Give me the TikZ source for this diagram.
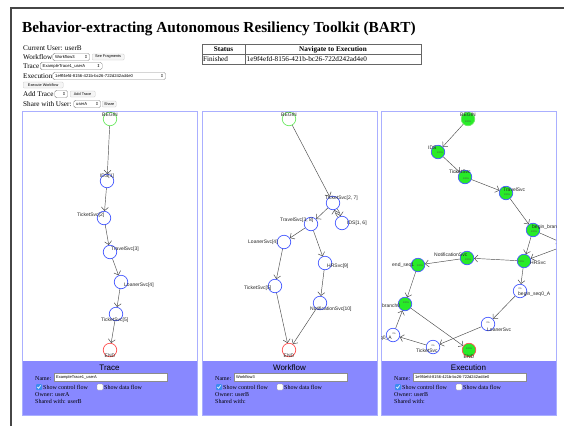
\documentclass[tikz,border=0pt]{standalone}
\usepackage{fontspec}
\setmainfont{Liberation Serif}
\newfontfamily\lsans{Liberation Sans}
\newfontfamily\djv{DejaVu Sans}
\usetikzlibrary{arrows.meta}
\definecolor{nodeblue}{RGB}{70,90,255}
\definecolor{begingreen}{RGB}{110,235,100}
\definecolor{endred}{RGB}{255,80,80}
\definecolor{fillgreen}{RGB}{40,235,40}
\definecolor{panelborder}{RGB}{170,175,255}
\definecolor{panelpurple}{RGB}{136,136,255}
\definecolor{framegray}{RGB}{70,70,70}
\definecolor{checkblue}{RGB}{60,140,240}
\tikzset{
 gc/.style={circle, draw=nodeblue, line width=0.7pt, minimum size=13.5pt, inner sep=0pt},
 gbegin/.style={gc, draw=begingreen},
 gend/.style={gc, draw=endred},
 gfill/.style={fill=fillgreen},
 glab/.style={font=\lsans\fontsize{5}{5}\selectfont, inner sep=0pt, anchor=west, text=black!85},
 gpct/.style={font=\lsans\fontsize{2.4}{2.4}\selectfont, inner sep=0pt, text=black!70},
 gedge/.style={draw=black!70, line width=0.45pt, -{Straight Barb[length=3.4pt,width=7pt,line width=0.5pt]}},
 ft/.style={font=\fontsize{7.2}{8}\selectfont, inner sep=0pt, anchor=base west},
 tb/.style={font=\fontsize{7.2}{8}\selectfont, inner sep=0pt},
 dd/.style={draw=black!45, fill=white, rounded corners=1.8pt, line width=0.4pt, inner sep=0pt, minimum height=7.5pt, anchor=west},
 ddt/.style={font=\lsans\fontsize{4.2}{4.2}\selectfont, inner sep=0pt, anchor=west},
 dda/.style={font=\djv\fontsize{4}{4}\selectfont, inner sep=0pt, anchor=east},
 btn/.style={draw=black!20, fill=black!4, rounded corners=1pt, line width=0.3pt, inner sep=0pt, minimum height=6pt, anchor=west, font=\lsans\fontsize{3.8}{3.8}\selectfont},
 pt/.style={font=\fontsize{6}{7}\selectfont, inner sep=0pt, anchor=base west},
 ptitle/.style={font=\lsans\fontsize{8}{9}\selectfont, inner sep=0pt},
 inbox/.style={draw=black!45, fill=white, line width=0.4pt, minimum width=113pt, minimum height=8pt, anchor=west, inner sep=0pt},
 intext/.style={font=\lsans\fontsize{4}{4}\selectfont, inner sep=0pt, anchor=west},
 chkon/.style={fill=checkblue, rounded corners=1pt, minimum size=6pt, inner sep=0pt},
 chkoff/.style={draw=black!40, fill=white, rounded corners=1pt, minimum size=6pt, inner sep=0pt, line width=0.3pt},
}
\newcommand{\panelbox}[7]{%
 \draw[panelborder, line width=0.8pt, fill=white] (#1,111) rectangle (#2,415);
 \fill[panelpurple] (#1,361) rectangle (#2,415);
 \draw[panelborder, line width=0.8pt] (#1,111) rectangle (#2,415);
 \node[ptitle] (title#3) at ({(#1+#2)/2},368) {#4};
 \node[pt] (name#3) at ({#1+13},380) {Name:};
 \node[inbox] (in#3) at ({#1+32},377) {};
 \node[intext] (int#3) at ([xshift=2pt]in#3.west) {#5};
 \node[chkon] (cb#3) at ({#1+17},387) {};
 \draw[white, line width=0.6pt] ([xshift=-1.6pt,yshift=0pt]cb#3.center) -- ([xshift=-0.4pt,yshift=-1.3pt]cb#3.center) -- ([xshift=1.7pt,yshift=1.6pt]cb#3.center);
 \node[pt] (cft#3) at ({#1+21},389) {Show control flow};
 \node[chkoff] (ub#3) at ({#1+78},387) {};
 \node[pt] (dft#3) at ({#1+82},389) {Show data flow};
 \node[pt] (own#3) at ({#1+13},396) {#6};
 \node[pt] (sh#3) at ({#1+13},403.5) {#7};
}
\begin{document}
\begin{tikzpicture}[x=1pt,y=-1pt]
\useasboundingbox (0,0) rectangle (564,426);
\fill[white] (0,0) rectangle (564,426);
\draw[framegray, line width=1.5pt] (11,426) -- (11,8) -- (564,8);

\node[anchor=base west, inner sep=0pt, font=\bfseries\fontsize{15.3}{18}\selectfont] (title) at (22,32) {Behavior-extracting Autonomous Resiliency Toolkit (BART)};

% form
\node[ft] (cu) at (23,50) {Current User: userB};
\node[ft] (wf) at (23,59.5) {Workflow};
\node[dd, minimum width=37pt] (wfdd) at (52.5,57) {};
\node[ddt] (wfddt) at ([xshift=2.5pt]wfdd.west) {Workflow3};
\node[dda] (wfdda) at ([xshift=-2pt]wfdd.east) {⇕};
\node[btn, minimum width=32pt] (sf) at (92,57) {See Fragments};

\node[ft] (tr) at (23,68.5) {Trace};
\node[dd, minimum width=62pt] (trdd) at (40,66) {};
\node[ddt] (trddt) at ([xshift=2.5pt]trdd.west) {ExampleTrace1\_userA};
\node[dda] (trdda) at ([xshift=-2pt]trdd.east) {⇕};

\node[ft] (ex) at (23,78.5) {Execution};
\node[dd, minimum width=113pt] (exdd) at (52.5,76) {};
\node[ddt] (exddt) at ([xshift=2.5pt]exdd.west) {1e9f4efd-8156-421b-bc26-722d242ad4e0};
\node[dda] (exdda) at ([xshift=-2pt]exdd.east) {⇕};

\node[btn, minimum width=40pt] (ew) at (23,85) {Execute Workflow};

\node[ft] (at) at (23,96.5) {Add Trace};
\node[dd, minimum width=13pt] (atdd) at (54.5,94) {};
\node[dda] (atdda) at ([xshift=-2pt]atdd.east) {⇕};
\node[btn, minimum width=25pt] (atb) at (70,94) {Add Trace};

\node[ft] (sw) at (23,106.5) {Share with User:};
\node[dd, minimum width=27pt] (swdd) at (73.5,104) {};
\node[ddt] (swddt) at ([xshift=2.5pt]swdd.west) {userA};
\node[dda] (swdda) at ([xshift=-2pt]swdd.east) {⇕};
\node[btn, minimum width=14pt] (swb) at (102,104) {Share};

% table
\draw[black!60, line width=0.6pt] (202,44) rectangle (421,64);
\draw[black!60, line width=0.5pt] (202,54) -- (421,54);
\draw[black!60, line width=0.5pt] (245,44) -- (245,64);
\node[tb, anchor=base, font=\bfseries\fontsize{7.2}{8}\selectfont] (th1) at (223.5,51.8) {Status};
\node[tb, anchor=base, font=\bfseries\fontsize{7.2}{8}\selectfont] (th2) at (333,51.8) {Navigate to Execution};
\node[tb, anchor=base west] (td1) at (203,61.8) {Finished};
\node[tb, anchor=base west] (td2) at (246.5,61.8) {1e9f4efd-8156-421b-bc26-722d242ad4e0};

% panels
\panelbox{22}{197}{a}{Trace}{ExampleTrace1\_userA}{Owner: userA}{Shared with: userB}
\panelbox{202}{377}{b}{Workflow}{Workflow3}{Owner: userB}{Shared with:}
\panelbox{381}{556}{c}{Execution}{1e9f4efd-8156-421b-bc26-722d242ad4e0}{Owner: userB}{Shared with:}

% panel 1 graph
\begin{scope}
\clip (22,111) rectangle (197,361);
\node[gbegin] (a0) at (110,119) {};
\node[gc] (a1) at (107,181) {};
\node[gc] (a2) at (104,218) {};
\node[gc] (a3) at (110,252) {};
\node[gc] (a4) at (121,282) {};
\node[gc] (a5) at (116,314) {};
\node[gend] (a6) at (110,350) {};
\node[glab, anchor=center] (la0) at (110,114.5) {BEGIN};
\node[glab, anchor=center] (la1) at (107,176.5) {IDS[1]};
\node[glab] (la2) at (77,215) {TicketSvc[2]};
\node[glab] (la3) at (111,249) {TravelSvc[3]};
\node[glab] (la4) at (124,285) {LoanerSvc[4]};
\node[glab] (la5) at (101,320) {TicketSvc[5]};
\node[glab, anchor=center] (la6) at (110,356) {END};
\draw[gedge] (a0) -- (a1);
\draw[gedge] (a1) -- (a2);
\draw[gedge] (a2) -- (a3);
\draw[gedge] (a3) -- (a4);
\draw[gedge] (a4) -- (a5);
\draw[gedge] (a5) -- (a6);
\end{scope}

% panel 2 graph
\begin{scope}
\clip (202,111) rectangle (377,361);
\node[gbegin] (b0) at (289,119) {};
\node[gc] (b1) at (333,203) {};
\node[gc] (b2) at (342,223) {};
\node[gc] (b3) at (311,224) {};
\node[gc] (b4) at (284,242) {};
\node[gc] (b5) at (325,263) {};
\node[gc] (b6) at (275,286) {};
\node[gc] (b7) at (320,303) {};
\node[gend] (b8) at (289,350) {};
\node[glab, anchor=center] (lb0) at (289,114.5) {BEGIN};
\node[glab] (lb1) at (325,198) {TicketSvc[2, 7]};
\node[glab] (lb2) at (347,223) {IDS[1, 6]};
\node[glab] (lb3) at (280,220) {TravelSvc[3, 8]};
\node[glab] (lb4) at (248,242) {LoanerSvc[4]};
\node[glab] (lb5) at (327,266) {HRSvc[9]};
\node[glab] (lb6) at (244,288) {TicketSvc[5]};
\node[glab] (lb7) at (310,309) {NotificationSvc[10]};
\node[glab, anchor=center] (lb8) at (289,356) {END};
\draw[gedge] (b0) -- (b1);
\draw[gedge] (b1) to[bend left=12] (b2);
\draw[gedge] (b2) to[bend left=12] (b1);
\draw[gedge] (b1) -- (b3);
\draw[gedge] (b3) -- (b4);
\draw[gedge] (b3) -- (b5);
\draw[gedge] (b4) -- (b6);
\draw[gedge] (b5) -- (b7);
\draw[gedge] (b6) -- (b8);
\draw[gedge] (b7) -- (b8);
\end{scope}

% panel 3 graph
\begin{scope}
\clip (381,111) rectangle (556,361);
\node[gbegin, gfill] (c0) at (468,119) {};
\node[gc, gfill] (c1) at (438,152) {};
\node[gc, gfill] (c2) at (465,177) {};
\node[gc, gfill] (c3) at (506,193) {};
\node[gc, gfill] (c4) at (533,230) {};
\node[gc, gfill] (c5) at (567,245) {};
\node[gc, gfill] (c6) at (524,261) {};
\node[gc, gfill] (c7) at (467,258) {};
\node[gc, gfill] (c8) at (418,265) {};
\node[gc] (c9) at (520,291) {};
\node[gc, gfill] (c10) at (405,304) {};
\node[gc] (c11) at (488,324) {};
\node[gc] (c12) at (393,335) {};
\node[gc] (c13) at (433,347) {};
\node[gend, gfill] (c14) at (469,350) {};
\node[glab, anchor=center] (lc0) at (468,114.5) {BEGIN};
\node[glab] (lc1) at (428,148) {IDS};
\node[glab] (lc2) at (449,172) {TicketSvc};
\node[glab] (lc3) at (503,190) {TravelSvc};
\node[glab] (lc4) at (532,227) {begin\_branch0};
\node[glab] (lc6) at (530,263) {HRSvc};
\node[glab] (lc7) at (434,255) {NotificationSvc};
\node[glab] (lc8) at (392,265) {end\_seq1};
\node[glab] (lc9) at (518,294) {begin\_seq0\_A};
\node[glab] (lc10) at (382,306) {branch0};
\node[glab] (lc11) at (487,330) {LoanerSvc};
\node[glab, anchor=east] (lc12) at (392,338) {end\_seq0\_A};
\node[glab] (lc13) at (416,351) {TicketSvc};
\node[glab, anchor=center] (lc14) at (469,357) {END};
\node[gpct] (pc0) at (468,121.5) {100\%};
\node[gpct] (pc1) at (440,153) {100\%};
\node[gpct] (pc2) at (466,179) {100\%};
\node[gpct] (pc3) at (507,195) {100\%};
\node[gpct] (pc4) at (534,232) {100\%};
\node[gpct] (pc6) at (521,262) {100\%};
\node[gpct] (pc7) at (468,260) {100\%};
\node[gpct] (pc8) at (420,266) {100\%};
\node[gpct] (pc9) at (520,289) {0\%};
\node[gpct] (pc10) at (406,303) {100\%};
\node[gpct] (pc11) at (488,323) {0\%};
\node[gpct] (pc12) at (394,334) {0\%};
\node[gpct] (pc13) at (433,346) {0\%};
\node[gpct] (pc14) at (469,349) {100\%};
\draw[gedge] (c0) -- (c1);
\draw[gedge] (c1) -- (c2);
\draw[gedge] (c2) -- (c3);
\draw[gedge] (c3) -- (c4);
\draw[gedge] (c4) -- (c5);
\draw[gedge] (c5) -- (c6);
\draw[gedge] (c4) -- (c6);
\draw[gedge] (c6) -- (c7);
\draw[gedge] (c7) -- (c8);
\draw[gedge] (c8) -- (c10);
\draw[gedge] (c6) -- (c9);
\draw[gedge] (c9) -- (c11);
\draw[gedge] (c11) -- (c13);
\draw[gedge] (c13) -- (c12);
\draw[gedge] (c12) -- (c10);
\draw[gedge] (c10) -- (c14);
\end{scope}
\end{tikzpicture}
\end{document}
